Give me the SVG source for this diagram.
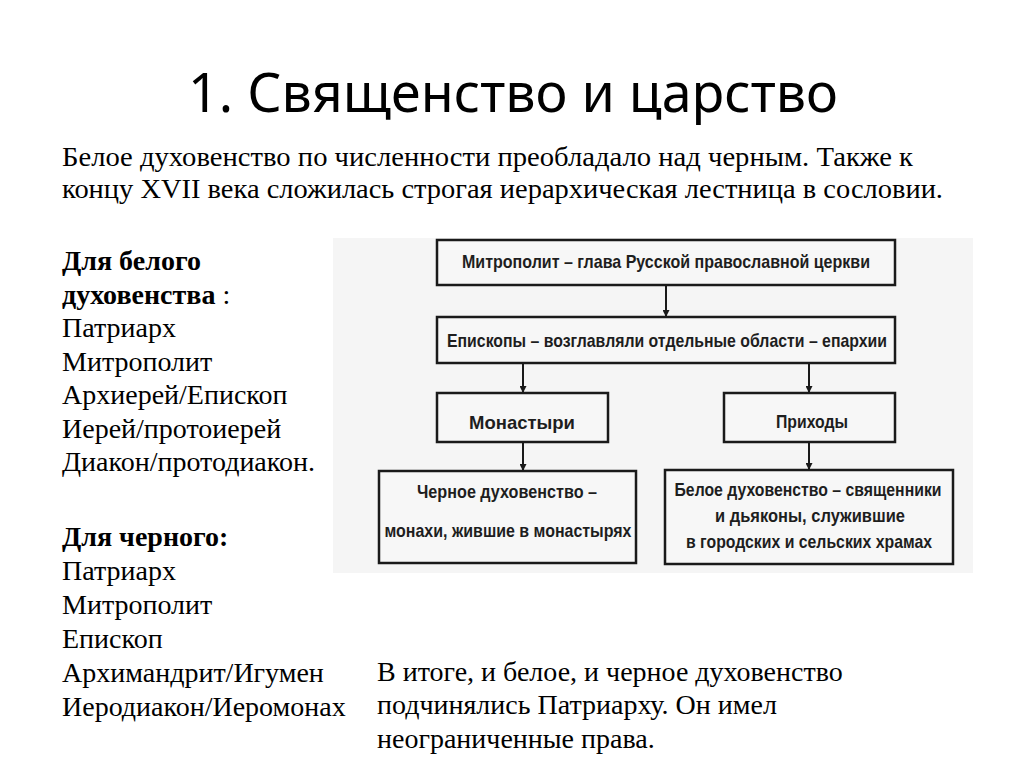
<svg xmlns="http://www.w3.org/2000/svg" width="1024" height="767" viewBox="0 0 1024 767">
<defs>
<style>
.title{font-family:"Noto Sans","Liberation Sans",sans-serif;font-size:54px;fill:#000}
.body{font-family:"Liberation Serif","Times New Roman",serif;font-size:28px;fill:#000}
.bold{font-weight:bold}
.box{fill:#f7f7f7;stroke:#1a1a1a;stroke-width:2.5}
.bt{font-family:"Liberation Sans",Arial,sans-serif;font-weight:bold;font-size:19px;fill:#1e1e1e;text-anchor:middle}
.conn{stroke:#1a1a1a;stroke-width:2;fill:none}
</style>
<marker id="ah" viewBox="0 0 10 10" refX="10" refY="5" markerWidth="7" markerHeight="7" orient="auto" markerUnits="userSpaceOnUse">
<path d="M0,0 L10,5 L0,10 z" fill="#1a1a1a"/>
</marker>
</defs>
<rect width="1024" height="767" fill="#ffffff"/>
<g id="title"><text class="title" x="188" y="112" textLength="650" lengthAdjust="spacingAndGlyphs">1. Священство и царство</text></g>
<g id="intro">
<text class="body" x="62" y="166" textLength="851" lengthAdjust="spacingAndGlyphs">Белое духовенство по численности преобладало над черным. Также к</text>
<text class="body" x="62" y="198" textLength="881" lengthAdjust="spacingAndGlyphs">концу XVII века сложилась строгая иерархическая лестница в сословии.</text>
</g>
<g id="white-list">
<text class="body bold" x="62" y="270">Для белого</text>
<text class="body" x="62" y="303.5"><tspan class="bold">духовенства</tspan> :</text>
<text class="body" x="62" y="337">Патриарх</text>
<text class="body" x="62" y="370.5">Митрополит</text>
<text class="body" x="62" y="404">Архиерей/Епископ</text>
<text class="body" x="62" y="437.5">Иерей/протоиерей</text>
<text class="body" x="62" y="471">Диакон/протодиакон.</text>
</g>
<g id="black-list">
<text class="body bold" x="62" y="546">Для черного:</text>
<text class="body" x="62" y="580">Патриарх</text>
<text class="body" x="62" y="614">Митрополит</text>
<text class="body" x="62" y="648">Епископ</text>
<text class="body" x="62" y="682">Архимандрит/Игумен</text>
<text class="body" x="62" y="716">Иеродиакон/Иеромонах</text>
</g>
<g id="conclusion">
<text class="body" x="377" y="681">В итоге, и белое, и черное духовенство</text>
<text class="body" x="377" y="714">подчинялись Патриарху. Он имел</text>
<text class="body" x="377" y="748">неограниченные права.</text>
</g>
<rect id="panel" x="333" y="238" width="640" height="335" fill="#f5f5f5"/>
<g id="connectors">
<line class="conn" x1="666" y1="286" x2="666" y2="317" marker-end="url(#ah)"/>
<line class="conn" x1="523" y1="364" x2="523" y2="393" marker-end="url(#ah)"/>
<line class="conn" x1="809" y1="364" x2="809" y2="393" marker-end="url(#ah)"/>
<line class="conn" x1="523" y1="443" x2="523" y2="471" marker-end="url(#ah)"/>
<line class="conn" x1="809" y1="443" x2="809" y2="470" marker-end="url(#ah)"/>
</g>
<g id="n-metropolitan">
<rect class="box" x="437" y="240" width="458" height="45"/>
<text class="bt" x="666" y="268" textLength="408" lengthAdjust="spacingAndGlyphs">Митрополит – глава Русской православной церкви</text>
</g>
<g id="n-bishops">
<rect class="box" x="437" y="317" width="458" height="46"/>
<text class="bt" x="667" y="347" textLength="440" lengthAdjust="spacingAndGlyphs">Епископы – возглавляли отдельные области – епархии</text>
</g>
<g id="n-monasteries">
<rect class="box" x="437" y="393" width="171" height="49"/>
<text class="bt" x="522" y="429" textLength="106" lengthAdjust="spacingAndGlyphs">Монастыри</text>
</g>
<g id="n-parishes">
<rect class="box" x="724" y="393" width="171" height="49"/>
<text class="bt" x="812" y="428" textLength="72" lengthAdjust="spacingAndGlyphs">Приходы</text>
</g>
<g id="n-black-clergy">
<rect class="box" x="379" y="471" width="257" height="92"/>
<text class="bt" x="507" y="498" textLength="180" lengthAdjust="spacingAndGlyphs">Черное духовенство –</text>
<text class="bt" x="508" y="537" textLength="247" lengthAdjust="spacingAndGlyphs">монахи, жившие в монастырях</text>
</g>
<g id="n-white-clergy">
<rect class="box" x="665" y="470" width="288" height="94"/>
<text class="bt" x="808" y="496" textLength="267" lengthAdjust="spacingAndGlyphs">Белое духовенство – священники</text>
<text class="bt" x="810" y="522" textLength="190" lengthAdjust="spacingAndGlyphs">и дьяконы, служившие</text>
<text class="bt" x="809" y="548" textLength="246" lengthAdjust="spacingAndGlyphs">в городских и сельских храмах</text>
</g>
</svg>
